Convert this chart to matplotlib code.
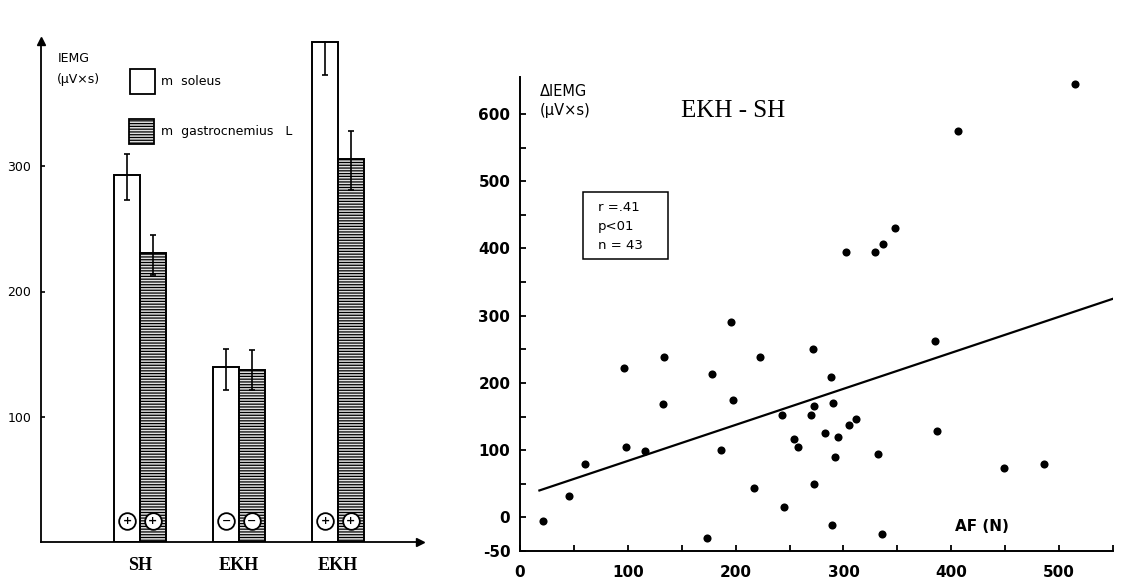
import matplotlib
matplotlib.use("Agg")
import matplotlib.pyplot as plt
from matplotlib.patches import Rectangle
import numpy as np

# ---------- data: left bar chart ----------
groups = ["SH", "EKH", "EKH"]
soleus = [293, 140, 399]
soleus_err_hi = [310, 154, 426]
soleus_err_lo = [273, 121, 373]
gastro = [231, 137, 306]
gastro_err_hi = [245, 153, 328]
gastro_err_lo = [213, 121, 281]
soleus_sign = ["+", "−", "+"]
gastro_sign = ["+", "−", "+"]
left_yticks = [100, 200, 300]

# ---------- data: right scatter ----------
af = [21, 45, 60, 96, 98, 116, 133, 134, 173, 178, 186, 196, 198, 217, 223,
      243, 245, 254, 258, 270, 272, 273, 273, 283, 288, 289, 290, 292, 295,
      305, 312, 332, 336, 385, 387, 449, 486, 302, 329, 337, 348, 406, 515]
diemg = [-6, 32, 79, 222, 104, 99, 169, 239, -31, 214, 100, 290, 175, 44, 239,
         152, 15, 116, 105, 152, 250, 166, 50, 126, 209, -12, 170, 90, 120,
         137, 147, 95, -24, 262, 129, 73, 80, 394, 395, 407, 430, 575, 644]
reg_intercept = 30.4
reg_slope = 0.536
reg_x_range = [18, 550]
right_yticks = [-50, 0, 100, 200, 300, 400, 500, 600]
right_xticks = [0, 100, 200, 300, 400, 500]
stats_lines = ["r =.41", "p<01", "n = 43"]

W, H = 1123, 582
fig = plt.figure(figsize=(W / 100, H / 100), dpi=100)

def fax(l, t, r, b):
    return fig.add_axes([l / W, 1 - b / H, (r - l) / W, (b - t) / H])

# ================= LEFT =================
ax = fax(41, 41, 420, 542)
ax.set_xlim(0, 3.83)
ax.set_ylim(0, 400)
for s in ["top", "right"]:
    ax.spines[s].set_visible(False)
ax.spines["left"].set_linewidth(1.3)
ax.spines["bottom"].set_linewidth(1.3)
ax.plot(1, 0, ">k", transform=ax.transAxes, clip_on=False, markersize=6)
ax.plot(0, 1, "^k", transform=ax.transAxes, clip_on=False, markersize=6)

pos = np.arange(1, len(groups) + 1)
bw = 0.26
ax.bar(pos - bw / 2, soleus, width=bw, facecolor="white", edgecolor="black", linewidth=1.4, zorder=2)
plt.rcParams["hatch.linewidth"] = 0.9
ax.bar(pos + bw / 2, gastro, width=bw, facecolor="#e0e0e0", edgecolor="black",
       linewidth=1.4, hatch="------", zorder=2)
for xs, hi, lo in [(pos - bw / 2, soleus_err_hi, soleus_err_lo), (pos + bw / 2, gastro_err_hi, gastro_err_lo)]:
    ax.vlines(xs, lo, hi, color="black", linewidth=1.2, zorder=3)
    ax.hlines(hi, xs - 0.03, xs + 0.03, color="black", linewidth=1.2, zorder=3)
    ax.hlines(lo, xs - 0.03, xs + 0.03, color="black", linewidth=1.2, zorder=3)
for xs, signs in [(pos - bw / 2, soleus_sign), (pos + bw / 2, gastro_sign)]:
    ax.plot(xs, [17] * len(xs), "o", markersize=12, markerfacecolor="white",
            markeredgecolor="black", markeredgewidth=1.3, zorder=4)
    for x, sg in zip(xs, signs):
        ax.text(x, 17, sg, ha="center", va="center", fontsize=8, fontweight="bold", zorder=5)

ax.set_yticks(left_yticks)
ax.set_yticklabels([str(v) for v in left_yticks], fontsize=9)
ax.tick_params(axis="y", direction="in", length=3, width=1.2, pad=7)
ax.set_xticks(pos)
ax.set_xticklabels(groups, family="Liberation Serif", fontweight="bold", fontsize=13)
ax.tick_params(axis="x", length=0, pad=11)

ax.text(0.17, 386, "IEMG", fontsize=9, va="center")
ax.text(0.16, 369, "(µV×s)", fontsize=9, va="center")
ax.add_patch(Rectangle((0.90, 358), 0.25, 20, facecolor="white", edgecolor="black", linewidth=1.3))
ax.add_patch(Rectangle((0.89, 318), 0.25, 20, facecolor="#e0e0e0", edgecolor="black",
                       linewidth=1.3, hatch="------"))
ax.text(1.21, 368, "m  soleus", fontsize=9, va="center")
ax.text(1.21, 328, "m  gastrocnemius   L", fontsize=9, va="center")

# ================= RIGHT =================
bx = fax(520, 77, 1113, 551)
bx.set_xlim(0, 550)
bx.set_ylim(-50, 655)
for s in ["top", "right"]:
    bx.spines[s].set_visible(False)
bx.spines["left"].set_linewidth(1.4)
bx.spines["bottom"].set_linewidth(1.4)

bx.scatter(af, diemg, s=34, color="black", zorder=3, linewidths=0)
rx = np.array(reg_x_range)
bx.plot(rx, reg_intercept + reg_slope * rx, color="black", linewidth=1.6)

bx.set_yticks(right_yticks)
bx.set_yticklabels([str(v) for v in right_yticks], fontsize=11, fontweight="bold")
bx.set_xticks(right_xticks)
bx.set_xticklabels([str(v) for v in right_xticks], fontsize=11, fontweight="bold")
bx.set_xticks(np.arange(50, 551, 100), minor=True)
bx.set_yticks(np.arange(50, 551, 100), minor=True)
bx.tick_params(which="both", direction="in", length=4, width=1.3)
bx.tick_params(axis="x", which="major", pad=10)
bx.tick_params(axis="y", which="major", pad=7)

bx.text(18, 633, "ΔIEMG", fontsize=10.5, va="center")
bx.text(18, 605, "(µV×s)", fontsize=10.5, va="center")
bx.text(198, 604, "EKH - SH", family="Liberation Serif", fontsize=18, ha="center", va="center")
bx.add_patch(Rectangle((58, 384), 79, 100, facecolor="white", edgecolor="black", linewidth=1.1))
for i, line in enumerate(stats_lines):
    bx.text(72, 461 - 28.5 * i, line, fontsize=9.5, va="center")
bx.text(428, -13, "AF (N)", fontsize=11, fontweight="bold", ha="center", va="center")

fig.savefig("out.png", dpi=100)
